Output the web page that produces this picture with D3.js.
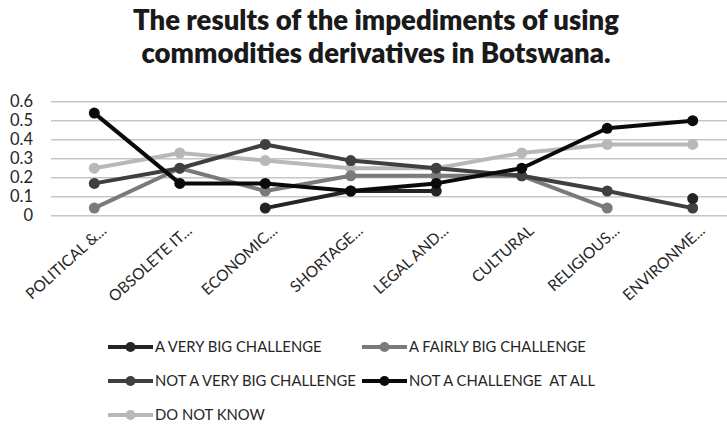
<!DOCTYPE html>
<html><head><meta charset="utf-8">
<script src="https://cdn.jsdelivr.net/npm/d3@7"></script>
<style>body{margin:0;background:#fff}svg{display:block}text{white-space:pre}</style>
</head><body>
<script>
const categories = ["POLITICAL &...", "OBSOLETE IT...", "ECONOMIC...", "SHORTAGE...", "LEGAL AND...", "CULTURAL", "RELIGIOUS...", "ENVIRONME..."];
const veryBig      = [null, null, 0.04, 0.13, 0.13, null, null, 0.09];
const fairlyBig    = [0.04, 0.25, 0.13, 0.21, 0.21, 0.21, 0.04, null];
const notVeryBig   = [0.17, 0.25, 0.375, 0.29, 0.25, 0.21, 0.13, 0.04];
const notAtAll     = [0.54, 0.17, 0.17, 0.13, 0.17, 0.25, 0.46, 0.50];
const doNotKnow    = [0.25, 0.33, 0.29, 0.25, 0.25, 0.33, 0.375, 0.375];
const seriesNames  = ["A VERY BIG CHALLENGE", "A FAIRLY BIG CHALLENGE", "NOT A VERY BIG CHALLENGE", "NOT A CHALLENGE  AT ALL", "DO NOT KNOW"];
const yTicks = [0, 0.1, 0.2, 0.3, 0.4, 0.5, 0.6];
const titleLines = ["The results of the impediments of using", "commodities derivatives in Botswana."];

const W = 727, H = 427;
const series = [
  {name: seriesNames[0], values: veryBig,    color: "#242424", order: 3},
  {name: seriesNames[1], values: fairlyBig,  color: "#7a7a7a", order: 1},
  {name: seriesNames[2], values: notVeryBig, color: "#3f3f3f", order: 2},
  {name: seriesNames[3], values: notAtAll,   color: "#0a0a0a", order: 4},
  {name: seriesNames[4], values: doNotKnow,  color: "#b8b8b8", order: 0}
];
const svg = d3.select("body").append("svg").attr("width", W).attr("height", H);
const font = "Lato, 'Open Sans', sans-serif";

svg.append("g").selectAll("text").data(titleLines).join("text")
  .attr("x", 376).attr("y", (d,i) => 30 + i*33)
  .attr("text-anchor", "middle").attr("font-family", font).attr("font-weight", 800)
  .attr("font-size", 27.5).attr("fill", "#1a1a1a").text(d => d);

const x = d3.scalePoint().domain(categories).range([94.3, 692.7]);
const y = d3.scaleLinear().domain([0, 0.6]).range([215.7, 101.7]);

// gridlines
svg.append("g").selectAll("line").data(yTicks).join("line")
  .attr("x1", 51).attr("x2", W).attr("y1", d => y(d)).attr("y2", d => y(d))
  .attr("stroke", "#c6c6c6").attr("stroke-width", 1.5);

// y axis labels
const yAxis = d3.axisLeft(y).tickValues(yTicks).tickFormat(d => d === 0 ? "0" : d3.format(".1f")(d)).tickSize(0).tickPadding(0);
const yg = svg.append("g").attr("transform", "translate(33,0)").call(yAxis);
yg.select(".domain").remove();
yg.selectAll("text").attr("font-family", font).attr("font-size", 16.5).attr("fill", "#262626");

// x axis labels
const xAxis = d3.axisBottom(x).tickSize(0).tickPadding(0);
const xg = svg.append("g").attr("transform", "translate(0,224)").call(xAxis);
xg.select(".domain").remove();
xg.selectAll("text").attr("font-family", font).attr("font-size", 15.5).attr("fill", "#262626")
  .attr("text-anchor", "end").attr("dy", "0.7em")
  .attr("transform", "translate(5.4,0) rotate(-42)");

// lines
const line = d3.line().defined(d => d.v != null).x(d => x(d.c)).y(d => y(d.v));
const ordered = series.slice().sort((a,b) => a.order - b.order);
ordered.forEach(s => {
  const pts = s.values.map((v,i) => ({c: categories[i], v}));
  svg.append("path").datum(pts).attr("d", line).attr("fill", "none")
    .attr("stroke", s.color).attr("stroke-width", 4).attr("stroke-linejoin", "round");
  svg.append("g").selectAll("circle").data(pts.filter(p => p.v != null)).join("circle")
    .attr("cx", p => x(p.c)).attr("cy", p => y(p.v)).attr("r", 5.5).attr("fill", s.color);
});

// legend
const legPos = [[108, 347], [362, 347], [108, 381], [362, 381], [108, 415]];
series.forEach((s, i) => {
  const [lx, ly] = legPos[i];
  const g = svg.append("g").attr("transform", `translate(${lx},${ly})`);
  g.append("line").attr("x1", 0).attr("x2", 45).attr("y1", 0).attr("y2", 0)
    .attr("stroke", s.color).attr("stroke-width", 4);
  g.append("circle").attr("cx", 22.5).attr("cy", 0).attr("r", 5).attr("fill", s.color);
  g.append("text").attr("x", 47).attr("y", 0).attr("dy", "0.36em")
    .attr("font-family", font).attr("font-size", 14.8).attr("fill", "#262626").text(s.name);
});
</script>
</body></html>
